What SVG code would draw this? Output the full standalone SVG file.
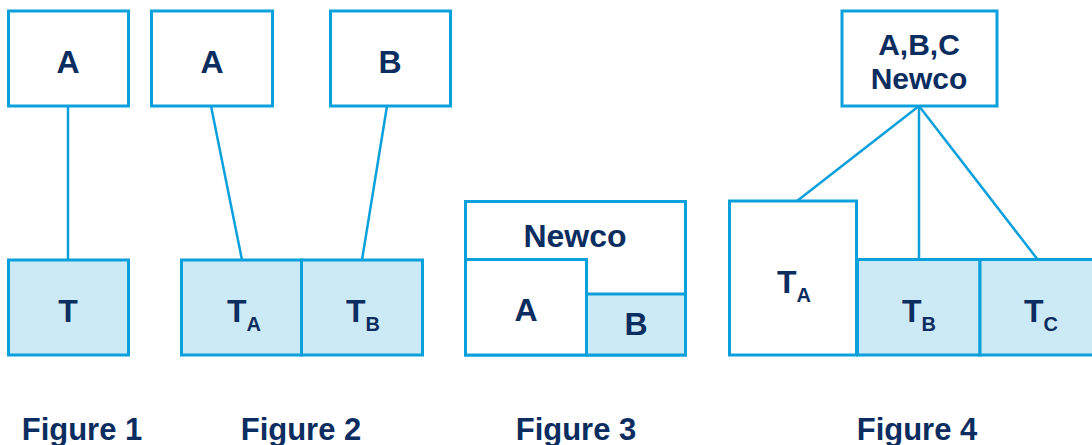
<svg xmlns="http://www.w3.org/2000/svg" width="1092" height="445" viewBox="0 0 1092 445">
<style>
.box{fill:#ffffff;stroke:#0aa0dc;stroke-width:3}
.fill{fill:#cce9f6;stroke:#0aa0dc;stroke-width:3}
.ln{stroke:#0aa0dc;stroke-width:2.5;fill:none}
text{font-family:"Liberation Sans",Arial,sans-serif;font-weight:bold;fill:#0b2d5f}
.t{font-size:32px}
.m{text-anchor:middle}
.s{font-size:20px}
.h{font-size:30px}
.cap{font-size:31px;text-anchor:middle}
</style>
<rect width="1092" height="445" fill="#ffffff"/>
<g id="connectors">
<line class="ln" x1="68" y1="106" x2="68" y2="260"/>
<line class="ln" x1="211" y1="106" x2="242" y2="260"/>
<line class="ln" x1="387" y1="106" x2="362" y2="260"/>
<line class="ln" x1="919" y1="106" x2="797" y2="201"/>
<line class="ln" x1="919" y1="106" x2="919" y2="260"/>
<line class="ln" x1="919" y1="106" x2="1038" y2="260"/>
</g>
<g id="fig1-A"><rect class="box" x="8.5" y="11" width="120" height="95"/><text class="t m" x="68" y="73">A</text></g>
<g id="fig1-T"><rect class="fill" x="8.5" y="260" width="120" height="95"/><text class="t m" x="68" y="322">T</text></g>
<g id="fig2-A"><rect class="box" x="151.5" y="11" width="121" height="95"/><text class="t m" x="212" y="73">A</text></g>
<g id="fig2-B"><rect class="box" x="330.5" y="11" width="120" height="95"/><text class="t m" x="390" y="73">B</text></g>
<g id="fig2-TA"><rect class="fill" x="181.5" y="260" width="120" height="95"/><text class="t" x="227" y="322">T<tspan class="s" dy="9">A</tspan></text></g>
<g id="fig2-TB"><rect class="fill" x="301.5" y="260" width="121" height="95"/><text class="t" x="346" y="322">T<tspan class="s" dy="9">B</tspan></text></g>
<g id="fig3-Newco"><rect class="box" x="465.5" y="201.5" width="220" height="153.5"/><text class="t m" x="575" y="247">Newco</text></g>
<g id="fig3-A"><rect class="box" x="465.5" y="259.5" width="121" height="95.5"/><text class="t m" x="526" y="321">A</text></g>
<g id="fig3-B"><rect class="fill" x="586.5" y="294" width="99" height="61"/><text class="t m" x="636" y="335">B</text></g>
<g id="fig4-Newco"><rect class="box" x="842" y="11" width="155" height="95"/><text class="h m" x="919" y="55">A,B,C</text><text class="h m" x="919" y="89">Newco</text></g>
<g id="fig4-TA"><rect class="box" x="729.5" y="201" width="127" height="154"/><text class="t" x="777" y="293">T<tspan class="s" dy="9">A</tspan></text></g>
<g id="fig4-TB"><rect class="fill" x="857.5" y="259.5" width="122.5" height="95.5"/><text class="t" x="902" y="322">T<tspan class="s" dy="9">B</tspan></text></g>
<g id="fig4-TC"><rect class="fill" x="980" y="259.5" width="120" height="95.5"/><text class="t" x="1024" y="322">T<tspan class="s" dy="9">C</tspan></text></g>
<g id="captions">
<text class="cap" x="82" y="440">Figure 1</text>
<text class="cap" x="301" y="440">Figure 2</text>
<text class="cap" x="576" y="440">Figure 3</text>
<text class="cap" x="917" y="440">Figure 4</text>
</g>
</svg>
